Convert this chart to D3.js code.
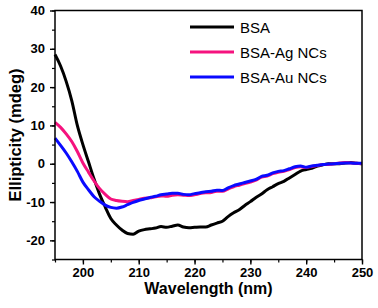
<html>
<head>
    <meta charset='utf-8'>
    <script src='https://cdnjs.cloudflare.com/ajax/libs/d3/7.8.5/d3.min.js'></script>
    <style>
        body { margin: 0; background: #fff; }
        text { font-family: 'Liberation Sans', Arial, sans-serif; }
    </style>
</head>
<body>
</body>

<script>
    var wavelength = d3.range(195, 251);

    var bsa = [28.5, 25.5, 21.5, 16.5, 10, 5, 0.5, -4, -8, -11.3,
               -14.3, -16, -17.3, -18.2, -18.4, -17.6, -17.2, -17, -16.8, -16.4,
               -16.6, -16.3, -16, -16.5, -16.7, -16.6, -16.5, -16.5, -16, -15.5,
               -15, -13.8, -12.8, -12, -10.9, -9.9, -8.8, -7.9, -6.8, -6,
               -5.2, -4.6, -3.7, -2.8, -1.9, -1.5, -1.2, -0.6, -0.3, 0,
               0, 0, 0.2, 0.3, 0.1, 0];
    var bsaAg = [10.8, 9.5, 7.8, 5.8, 3.2, 0.2, -2.2, -4.5, -6.5, -8,
                 -9.2, -9.6, -9.8, -9.9, -9.6, -9.3, -9, -8.9, -8.6, -8.4,
                 -8.5, -8.2, -8.1, -8.2, -8.3, -8.1, -7.8, -7.6, -7.5, -7.2,
                 -7.2, -6.6, -6, -5.6, -5.2, -4.8, -4.3, -3.5, -3.2, -2.6,
                 -2.2, -2, -1.5, -1, -0.8, -1, -0.7, -0.5, -0.2, -0.2,
                 0, 0.2, 0.3, 0.2, 0.1, 0];
    var bsaAu = [6.7, 4.8, 2.8, 0.5, -2, -4.8, -6.8, -8.6, -9.8, -10.8,
                 -11.4, -11.6, -11.3, -10.7, -10.1, -9.6, -9.2, -8.8, -8.5, -8.1,
                 -7.9, -7.7, -7.7, -8, -8.1, -7.8, -7.6, -7.3, -7.2, -6.9,
                 -7, -6.3, -5.7, -5.3, -4.9, -4.5, -4.1, -3.3, -3, -2.4,
                 -2, -1.8, -1.3, -0.8, -0.6, -0.9, -0.6, -0.4, -0.2, -0.1,
                 0, 0.1, 0.2, 0.2, 0.1, 0.1];

    var seriesNames = ['BSA', 'BSA-Ag NCs', 'BSA-Au NCs'];
    var seriesColors = ['#000000', '#f5127e', '#0a0aff'];
    var xTicks = [200, 210, 220, 230, 240, 250];
    var yTicks = [-20, -10, 0, 10, 20, 30, 40];

    var series = [bsa, bsaAg, bsaAu];

    var plotL = 55, plotR = 362, plotT = 10.5, plotB = 259.5;

    var svg = d3.select('body').append('svg')
                .attr('width', 378).attr('height', 308);

    var x = d3.scaleLinear().domain([195, 250]).range([plotL, plotR]);
    var y = d3.scaleLinear().domain([-25, 40]).range([plotB, plotT]);

    function plain(d) { return String(d); }

    // minor ticks
    svg.append('g')
       .attr('transform', 'translate(0,' + plotB + ')')
       .call(d3.axisBottom(x).tickValues(d3.range(195, 251, 5)).tickSize(3).tickFormat(''))
       .call(function (g) { g.select('.domain').remove(); })
       .selectAll('line').attr('stroke-width', 1.2);
    svg.append('g')
       .attr('transform', 'translate(' + plotL + ',0)')
       .call(d3.axisLeft(y).tickValues(d3.range(-25, 41, 5)).tickSize(3).tickFormat(''))
       .call(function (g) { g.select('.domain').remove(); })
       .selectAll('line').attr('stroke-width', 1.2);

    // major ticks + labels
    var xAxis = svg.append('g')
       .attr('transform', 'translate(0,' + plotB + ')')
       .call(d3.axisBottom(x).tickValues(xTicks).tickSize(5).tickPadding(3).tickFormat(plain));
    var yAxis = svg.append('g')
       .attr('transform', 'translate(' + plotL + ',0)')
       .call(d3.axisLeft(y).tickValues(yTicks).tickSize(5).tickPadding(5).tickFormat(plain));

    [xAxis, yAxis].forEach(function (g) {
        g.select('.domain').remove();
        g.selectAll('line').attr('stroke-width', 1.4);
        g.selectAll('text')
         .style('font-size', '13px')
         .style('font-weight', 'bold')
         .attr('fill', '#000');
    });

    var line = d3.line()
                 .x(function (d, i) { return x(wavelength[i]); })
                 .y(function (d) { return y(d); })
                 .curve(d3.curveMonotoneX);

    series.forEach(function (s, i) {
        svg.append('path')
           .datum(s)
           .attr('d', line)
           .attr('fill', 'none')
           .attr('stroke', seriesColors[i])
           .attr('stroke-width', 3)
           .attr('stroke-linejoin', 'round');
    });

    // frame
    svg.append('rect')
       .attr('x', plotL).attr('y', plotT)
       .attr('width', plotR - plotL).attr('height', plotB - plotT)
       .attr('fill', 'none').attr('stroke', '#000').attr('stroke-width', 1.5);

    // legend
    var legend = svg.append('g');
    seriesNames.forEach(function (name, i) {
        var ly = 27 + i * 25;
        legend.append('line')
              .attr('x1', 190).attr('x2', 234)
              .attr('y1', ly).attr('y2', ly)
              .attr('stroke', seriesColors[i]).attr('stroke-width', 3);
        legend.append('text')
              .attr('x', 240).attr('y', ly + 5.5)
              .style('font-size', '15px')
              .text(name);
    });

    // axis titles
    svg.append('text')
       .attr('x', (plotL + plotR) / 2).attr('y', 294)
       .attr('text-anchor', 'middle')
       .style('font-size', '16px').style('font-weight', 'bold')
       .text('Wavelength (nm)');
    svg.append('text')
       .attr('transform', 'translate(21,' + (plotT + plotB) / 2 + ') rotate(-90)')
       .attr('text-anchor', 'middle')
       .style('font-size', '16.5px').style('font-weight', 'bold')
       .text('Ellipticity (mdeg)');
</script>
</html>
